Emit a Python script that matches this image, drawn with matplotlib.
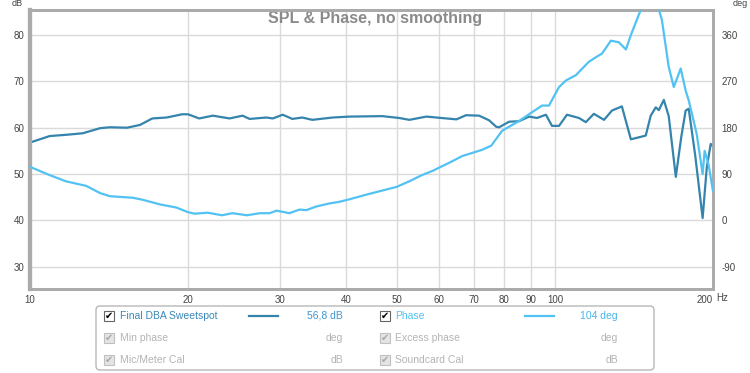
import matplotlib
matplotlib.use('Agg')
import matplotlib.pyplot as plt
from matplotlib.patches import FancyBboxPatch, Rectangle
from matplotlib.transforms import Affine2D

plt.rcParams['font.family'] = ['Liberation Sans', 'DejaVu Sans']
plt.rcParams['axes.unicode_minus'] = False

# SPL trace (Hz, dB)
spl_freq = [10.0, 10.9, 11.8, 12.6, 13.6, 14.2, 15.3, 16.2, 17.1, 18.2, 19.5, 20.0,
            21.0, 22.3, 24.0, 25.4, 26.2, 28.2, 29.0, 30.3, 31.6, 33.0, 34.5, 37.7,
            40.6, 46.9, 50.5, 52.8, 56.9, 64.9, 67.7, 71.7, 74.9, 77.3, 78.3, 81.8,
            85.4, 89.3, 92.4, 96.1, 98.7, 101.8, 105.4, 111.1, 114.5, 118.6, 124.0,
            128.4, 134.1, 139.5, 148.9, 152.2, 155.6, 157.7, 161.2, 164.7, 169.9,
            174.0, 177.4, 179.8, 185.0, 191.1, 194.6, 198.0, 200.0]
spl_db = [56.8, 58.2, 58.5, 58.8, 59.9, 60.1, 60.0, 60.6, 62.0, 62.2, 62.9, 62.9,
          62.0, 62.6, 62.0, 62.6, 61.9, 62.2, 62.0, 62.8, 61.9, 62.2, 61.7, 62.2,
          62.4, 62.5, 62.1, 61.7, 62.4, 61.8, 62.7, 62.6, 61.6, 60.2, 60.1, 61.3,
          61.4, 62.4, 62.1, 62.8, 60.4, 60.4, 62.8, 62.1, 61.2, 63.0, 61.7,
          63.7, 64.6, 57.5, 58.3, 62.6, 64.4, 63.8, 66.0, 62.5, 49.4,
          58.0, 63.7, 64.1, 54.0, 40.5, 51.4, 56.5, 56.0]

# Phase trace (Hz, deg)
ph_freq = [10.0, 10.9, 11.7, 12.8, 13.6, 14.2, 15.7, 16.4, 17.7, 19.0, 20.0, 20.6,
           21.8, 23.2, 24.3, 25.9, 27.4, 28.6, 29.5, 31.2, 32.6, 33.6, 35.1, 37.2,
           38.8, 40.6, 43.7, 46.9, 49.9, 52.8, 55.8, 58.4, 62.9, 66.6, 72.6, 75.6,
           79.3, 85.4, 90.4, 94.5, 97.4, 101.8, 105.0, 109.6, 116.0, 119.7, 122.9,
           127.8, 132.3, 136.5, 139.5, 144.4, 150.0, 155.0, 159.8, 164.7, 168.4,
           173.6, 177.4, 179.8, 186.2, 191.1, 192.8, 196.0, 200.0]
ph_deg = [104, 88, 76, 67, 53, 47, 44, 40, 31, 25, 16, 13,
          15, 10, 14, 10, 14, 14, 19, 14, 21, 20, 27, 33,
          36, 41, 50, 58, 65, 76, 88, 96, 112, 125, 137, 145,
          174, 193, 210, 223, 223, 259, 272, 282, 308, 317, 324,
          349, 346, 332, 360, 399, 440, 435, 390, 298, 259,
          295, 252, 233, 168, 90, 135, 110, 57]

x_ticks = [10, 20, 30, 40, 50, 60, 70, 80, 90, 100, 200]
db_ticks = [30, 40, 50, 60, 70, 80]
deg_ticks = [-90, 0, 90, 180, 270, 360]

spl_color = '#3484ad'
ph_color = '#52c2f2'
grey_txt = '#b4b4b4'

fig = plt.figure(figsize=(7.5, 3.73), dpi=100)
ax = fig.add_axes([30 / 750, 1 - 289 / 373, 683 / 750, 279 / 373])
ax2 = ax.twinx()

db_lo, db_hi = 25.2, 85.4
ax.set_xscale('log')
ax.set_xlim(10, 200)
ax.set_ylim(db_lo, db_hi)
ax2.set_ylim((db_lo - 40) * 9, (db_hi - 40) * 9)

ax.plot(spl_freq, spl_db, color=spl_color, lw=1.6, zorder=3)
ax2.plot(ph_freq, ph_deg, color=ph_color, lw=1.6, zorder=3)

ax.set_xticks(x_ticks)
ax.set_xticklabels([str(t) for t in x_ticks])
ax.xaxis.set_minor_locator(matplotlib.ticker.NullLocator())
ax.set_yticks(db_ticks)
ax2.set_yticks(deg_ticks)
ax.grid(True, color='#dadada', lw=1)
ax.set_axisbelow(True)
ax.tick_params(axis='both', length=0, labelsize=7, colors='#444444')
ax.tick_params(axis='x', pad=4)
ax.tick_params(axis='y', pad=4)
ax2.tick_params(axis='y', length=0, labelsize=7, colors='#444444', pad=6)
# right-align the last x label so "Hz" fits beside it
ax.get_xticklabels()[-1].set_horizontalalignment('right')

for a in (ax, ax2):
    for s in a.spines.values():
        s.set_color('#ababab')
        s.set_linewidth(2)
    a.spines['left'].set_linewidth(3)

ax.text(0.505, 0.968, 'SPL & Phase, no smoothing', transform=ax.transAxes,
        ha='center', va='center', fontsize=11.5, fontweight='bold', color='#8a8a8a')

# pixel transform for the decorations outside the axes
px = Affine2D().scale(1 / 750, -1 / 373).translate(0, 1) + fig.transFigure
fig.text(12, 4, 'dB', transform=px, fontsize=6.5, color='#444444', va='center')
fig.text(748, 4, 'deg', transform=px, fontsize=6.5, color='#444444', va='center', ha='right')
fig.text(716, 298, 'Hz', transform=px, fontsize=7, color='#444444', va='center')

# legend panel
box = FancyBboxPatch((96, 306), 558, 64, boxstyle='round,pad=0,rounding_size=4',
                     transform=px, fc='white', ec='#b8b8b8', lw=1)
fig.patches.append(box)

rows = [
    ('Final DBA Sweetspot', '56,8 dB', '#3a88b8', '#3f97cf', True,
     'Phase', '104 deg', ph_color, '#4ab4e8', True),
    ('Min phase', 'deg', grey_txt, grey_txt, False,
     'Excess phase', 'deg', grey_txt, grey_txt, False),
    ('Mic/Meter Cal', 'dB', grey_txt, grey_txt, False,
     'Soundcard Cal', 'dB', grey_txt, grey_txt, False),
]
row_y = [316, 338, 360]


def checkbox(x, y, on):
    fc = 'white' if on else '#e4e4e4'
    ec = '#666666' if on else '#c0c0c0'
    tc = 'black' if on else '#a8a8a8'
    fig.patches.append(Rectangle((x, y - 5), 10, 10, transform=px, fc=fc, ec=ec, lw=0.8))
    fig.text(x + 5, y, '\u2714', transform=px, fontsize=7, color=tc,
             ha='center', va='center', family='DejaVu Sans')


for (n1, v1, c1, vc1, on1, n2, v2, c2, vc2, on2), y in zip(rows, row_y):
    checkbox(104, y, on1)
    fig.text(120, y, n1, transform=px, fontsize=7.5, color=c1, va='center')
    if on1:
        fig.lines.append(plt.Line2D([249, 278], [y, y], transform=px, color=spl_color, lw=1.6))
    fig.text(343, y, v1, transform=px, fontsize=7.5, color=vc1, va='center', ha='right')
    checkbox(380, y, on2)
    fig.text(395, y, n2, transform=px, fontsize=7.5, color=c2, va='center')
    if on2:
        fig.lines.append(plt.Line2D([525, 554], [y, y], transform=px, color=ph_color, lw=1.6))
    fig.text(618, y, v2, transform=px, fontsize=7.5, color=vc2, va='center', ha='right')

fig.savefig('out.png', dpi=100)
